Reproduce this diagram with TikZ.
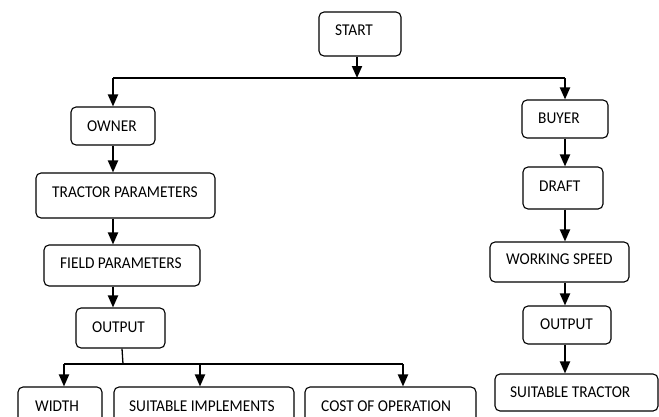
\documentclass[tikz,border=0pt]{standalone}
\usepackage{fontspec}
\setmainfont{Carlito}[FakeStretch=0.93]
\usetikzlibrary{arrows.meta}
\begin{document}
\begin{tikzpicture}[x=1pt,y=-1pt,
  box/.style={draw, line width=1.1pt, rounded corners=5pt, inner sep=0pt},
  lbl/.style={anchor=west, inner sep=0pt, font=\fontsize{16.5}{18}\selectfont},
  arr/.style={line width=1.9pt, -{Triangle[length=12pt,width=10pt]}},
  ln/.style={line width=1.3pt}]
\useasboundingbox (0,0) rectangle (659,416);
\clip (0,0) rectangle (659,416);
% boxes
\node[box, minimum width=82pt, minimum height=44pt] (start) at (360,34) {};
\node[lbl] (tstart) at (335,30) {START};
\node[box, minimum width=84pt, minimum height=38pt] (owner) at (113,126) {};
\node[lbl] (towner) at (87,126) {OWNER};
\node[box, minimum width=179pt, minimum height=45pt] (tp) at (125.5,195.5) {};
\node[lbl] (ttp) at (52,192) {TRACTOR PARAMETERS};
\node[box, minimum width=156pt, minimum height=41pt] (fp) at (122,265.5) {};
\node[lbl] (tfp) at (60,263) {FIELD PARAMETERS};
\node[box, minimum width=89pt, minimum height=40pt] (outl) at (120.5,328) {};
\node[lbl] (toutl) at (92,327) {OUTPUT};
\node[box, minimum width=84pt, minimum height=40pt] (width) at (60,407) {};
\node[lbl] (twidth) at (35,406) {WIDTH};
\node[box, minimum width=180pt, minimum height=40pt] (si) at (204,407) {};
\node[lbl] (tsi) at (129,406) {SUITABLE IMPLEMENTS};
\node[box, minimum width=171pt, minimum height=40pt] (cost) at (390.5,407) {};
\node[lbl] (tcost) at (321,406) {COST OF OPERATION};
\node[box, minimum width=86pt, minimum height=38pt] (buyer) at (565,119) {};
\node[lbl] (tbuyer) at (538,118) {BUYER};
\node[box, minimum width=80pt, minimum height=42pt] (draft) at (563,188) {};
\node[lbl] (tdraft) at (539,186) {DRAFT};
\node[box, minimum width=139pt, minimum height=40pt] (ws) at (559.5,262) {};
\node[lbl] (tws) at (506,259) {WORKING SPEED};
\node[box, minimum width=88pt, minimum height=38pt] (outr) at (567,325) {};
\node[lbl] (toutr) at (540,324) {OUTPUT};
\node[box, minimum width=163pt, minimum height=37pt] (st) at (576.5,392.5) {};
\node[lbl] (tst) at (510,392) {SUITABLE TRACTOR};
% junctions
\coordinate (jL) at (113,78);
\coordinate (jR) at (565,78);
\coordinate (jS) at (357,78);
\coordinate (jB) at (123,364);
\coordinate (bL) at (64,364);
\coordinate (bM) at (200,364);
\coordinate (bR) at (403,364);
% connectors
\draw[ln] (jL) -- (jR);
\draw[arr] (start.south -| jS) -- (jS);
\draw[arr] (jL) -- (owner.north -| jL);
\draw[arr] (jR) -- (buyer.north -| jR);
\draw[arr] (owner.south -| jL) -- (tp.north -| jL);
\draw[arr] (tp.south -| jL) -- (fp.north -| jL);
\draw[arr] (fp.south -| jL) -- (outl.north -| jL);
\draw[ln] (outl.south -| 122,0) -- (jB);
\draw[ln] (bL) -- (bR);
\draw[arr] (bL) -- (width.north -| bL);
\draw[arr] (bM) -- (si.north -| bM);
\draw[arr] (bR) -- (cost.north -| bR);
\draw[arr] (buyer.south -| jR) -- (draft.north -| jR);
\draw[arr] (draft.south -| jR) -- (ws.north -| jR);
\draw[arr] (ws.south -| jR) -- (outr.north -| jR);
\draw[arr] (outr.south -| jR) -- (st.north -| jR);
\end{tikzpicture}
\end{document}
